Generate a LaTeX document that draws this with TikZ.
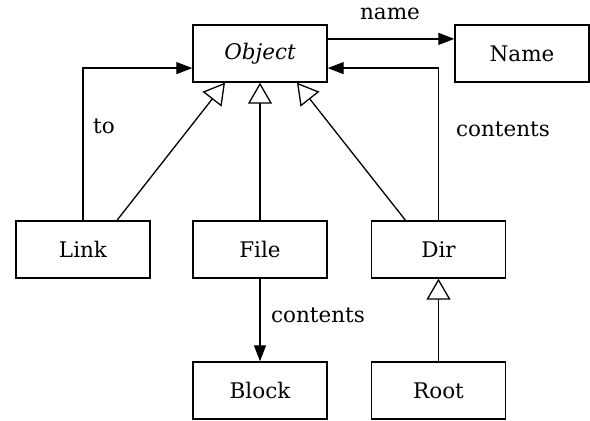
\documentclass[tikz,border=0pt]{standalone}
\usepackage{fontspec}
\setmainfont{DejaVu Serif}
\usetikzlibrary{arrows.meta,calc}
\begin{document}
\begin{tikzpicture}[x=1pt,y=-1pt,
  every node/.style={font=\fontsize{21.5}{25}\selectfont},
  cls/.style={draw,line width=1.4pt,minimum width=134pt,minimum height=57pt,inner sep=0pt},
  lbl/.style={inner sep=0pt},
  conn/.style={line width=1.3pt},
  assoc/.style={conn,-{Triangle[length=16pt,width=12pt]}},
  gen/.style={conn,-{Triangle[open,length=21pt,width=24pt,fill=white,line width=1.3pt]}}]
\useasboundingbox (0,0) rectangle (590,421);
\node[cls] (obj) at (260,53.5) {\itshape Object};
\node[cls] (name) at (522,53.5) {Name};
\node[cls] (link) at (83,249.5) {Link};
\node[cls] (file) at (260,249.5) {File};
\node[cls] (dir) at (438.5,249.5) {Dir};
\node[cls] (block) at (260,390.5) {Block};
\node[cls] (root) at (438.5,390.5) {Root};
\coordinate (oe1) at ($(obj.north east)!0.25!(obj.south east)$);
\coordinate (oe2) at ($(obj.north east)!0.75!(obj.south east)$);
\coordinate (ow2) at ($(obj.north west)!0.75!(obj.south west)$);
% associations
\draw[assoc] (oe1) -- (name.west |- oe1);
\draw[assoc] (dir.north) |- (oe2);
\draw[assoc] (link.north) |- (ow2);
\draw[assoc] (file.south) -- (block.north);
% generalizations
\draw[gen] ([xshift=34pt]link.north) -- ([xshift=-35pt]obj.south);
\draw[gen] (file.north) -- (obj.south);
\draw[gen] ([xshift=-33pt]dir.north) -- ([xshift=37pt]obj.south);
\draw[gen] (root.north) -- (dir.south);
% labels
\node[lbl] (lname) at (390,14) {name};
\node[lbl] (lto) at (104,126) {to};
\node[lbl] (lcont1) at (503,129) {contents};
\node[lbl] (lcont2) at (318,315) {contents};
\end{tikzpicture}
\end{document}
